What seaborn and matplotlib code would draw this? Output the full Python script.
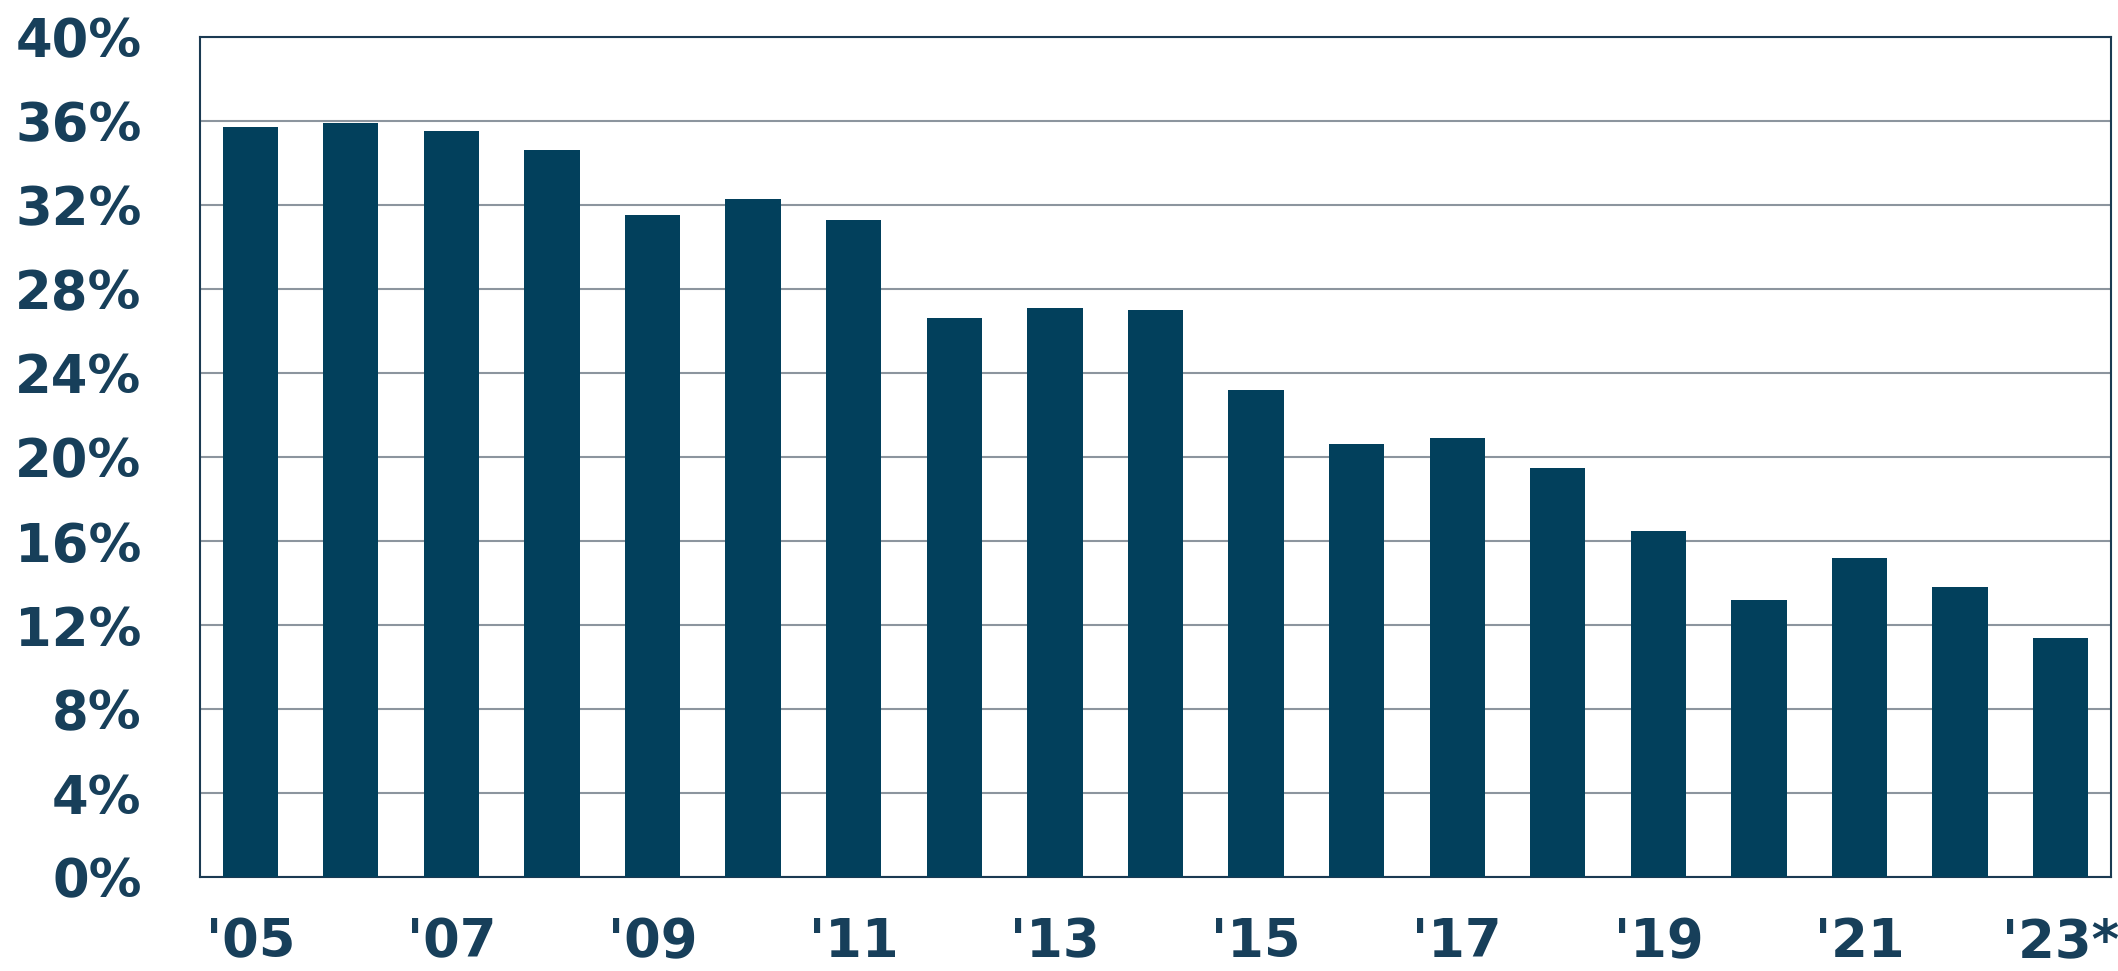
import pandas as pd
import seaborn as sns
import matplotlib.pyplot as plt
from matplotlib.ticker import MultipleLocator, FuncFormatter

# Data
years = ["2005", "2006", "2007", "2008", "2009", "2010", "2011", "2012", "2013", "2014",
         "2015", "2016", "2017", "2018", "2019", "2020", "2021", "2022", "2023"]
share = [35.7, 35.9, 35.5, 34.6, 31.5, 32.3, 31.3, 26.6, 27.1, 27.0,
         23.2, 20.6, 20.9, 19.5, 16.5, 13.2, 15.2, 13.8, 11.4]
xlabels = ["'05", "", "'07", "", "'09", "", "'11", "", "'13", "",
           "'15", "", "'17", "", "'19", "", "'21", "", "'23*"]

df = pd.DataFrame({"year": years, "share": share})

bar_color = "#02405c"
text_color = "#173f5a"
grid_color = "#8c959e"

sns.set_style("white")
plt.rcParams['font.family'] = ['DejaVu Sans']

fig = plt.figure(figsize=(21.18, 9.71), dpi=100)
ax = fig.add_axes([0.0944, 0.0968, 0.9023, 0.8651])

sns.barplot(data=df, x="year", y="share", color=bar_color, width=0.55,
            saturation=1, edgecolor="none", ax=ax, zorder=3)

ax.set_ylim(0, 40)
ax.set_xlim(-0.5, len(years) - 0.5)
ax.yaxis.set_major_locator(MultipleLocator(4))
ax.yaxis.set_major_formatter(FuncFormatter(lambda v, p: f"{v:.0f}%"))
ax.grid(axis="y", color=grid_color, linewidth=1.5, zorder=0)
ax.set_axisbelow(True)

ax.set_xticks(range(len(years)))
ax.set_xticklabels(xlabels)
ax.set_xlabel("")
ax.set_ylabel("")

ax.tick_params(axis="both", length=0, labelsize=38, labelcolor=text_color)
ax.tick_params(axis="y", pad=42)
ax.tick_params(axis="x", pad=28)
for lab in ax.get_xticklabels() + ax.get_yticklabels():
    lab.set_fontweight("bold")

for side in ["top", "bottom", "left", "right"]:
    ax.spines[side].set_visible(True)
    ax.spines[side].set_color("#1b3a52")
    ax.spines[side].set_linewidth(1.5)

fig.savefig("out.png", dpi=100)
